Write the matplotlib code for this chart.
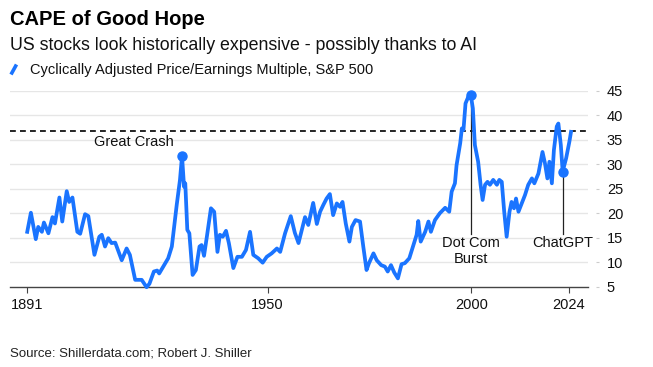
import matplotlib
matplotlib.use("Agg")
import matplotlib.pyplot as plt
from matplotlib.lines import Line2D

plt.rcParams['font.family'] = ['Liberation Sans', 'DejaVu Sans']

# ---- data ----
years = [1891.0, 1891.9, 1893.1, 1893.7, 1894.6, 1895.1, 1896.2, 1897.2, 1897.8, 1898.9,
         1899.6, 1900.7, 1901.3, 1902.1, 1903.3, 1904.0, 1905.2, 1906.0, 1907.5, 1908.7,
         1909.3, 1910.1, 1910.9, 1911.7, 1912.6, 1914.2, 1915.4, 1916.2, 1917.5, 1919.1,
         1920.3, 1921.0, 1922.1, 1922.9, 1923.4, 1924.6, 1925.6, 1926.5, 1927.7, 1928.5,
         1929.0, 1929.5, 1929.8, 1930.3, 1930.8, 1931.6, 1932.4, 1933.3, 1933.8, 1934.4,
         1935.1, 1936.1, 1936.9, 1937.7, 1938.3, 1939.0, 1939.8, 1940.5, 1941.6, 1942.6,
         1943.7, 1944.7, 1945.7, 1946.5, 1947.7, 1948.8, 1949.8, 1951.0, 1952.3, 1953.1,
         1954.3, 1955.7, 1956.7, 1957.6, 1959.2, 1960.0, 1961.2, 1962.1, 1962.9, 1963.7,
         1964.5, 1965.3, 1966.1, 1967.0, 1967.8, 1968.4, 1969.2, 1970.1, 1970.7, 1971.6,
         1972.7, 1973.5, 1974.3, 1974.9, 1976.0, 1976.8, 1977.9, 1978.8, 1979.5, 1980.3,
         1981.1, 1982.0, 1982.9, 1983.7, 1984.8, 1985.8, 1986.6, 1987.0, 1987.6, 1988.7,
         1989.5, 1990.1, 1991.1, 1992.3, 1993.6, 1994.6, 1995.2, 1996.0, 1996.4, 1997.3,
         1997.7, 1998.1, 1998.6, 1999.3, 1999.9, 2000.4, 2000.9, 2001.7, 2002.3, 2002.8,
         2003.4, 2004.0, 2004.6, 2005.4, 2006.3, 2006.9, 2007.5, 2008.1, 2008.7, 2009.4,
         2009.9, 2010.5, 2011.0, 2011.6, 2012.4, 2013.2, 2014.0, 2014.9, 2015.5, 2016.5,
         2017.5, 2018.1, 2018.7, 2019.2, 2019.8, 2020.3, 2021.0, 2021.4, 2022.0, 2022.45,
         2023.3, 2024.1, 2024.5]
cape = [16.2, 20.1, 14.7, 17.2, 16.2, 18.1, 15.9, 19.2, 17.9, 23.2,
        18.3, 24.5, 22.3, 23.2, 16.2, 15.8, 19.8, 19.4, 11.5, 15.2,
        15.6, 13.2, 14.9, 13.9, 14.0, 10.4, 12.8, 11.5, 6.4, 6.4,
        4.9, 5.6, 8.1, 8.3, 7.7, 9.4, 10.8, 13.2, 21.7, 26.8,
        31.7, 25.4, 26.1, 16.6, 15.9, 7.4, 8.4, 13.2, 13.5, 11.3,
        15.2, 21.0, 20.3, 12.1, 15.6, 15.2, 16.4, 13.9, 8.8, 11.1,
        11.1, 12.5, 16.2, 11.5, 10.8, 9.9, 11.1, 11.8, 12.8, 12.1,
        15.9, 19.4, 16.0, 13.9, 19.2, 17.6, 22.1, 17.8, 20.3, 21.7,
        23.0, 23.9, 19.6, 22.0, 21.3, 22.3, 17.9, 14.2, 17.2, 18.6,
        18.3, 13.2, 8.4, 9.8, 11.8, 10.4, 9.4, 9.1, 8.1, 9.4,
        7.9, 6.7, 9.6, 9.8, 10.8, 13.5, 15.6, 18.4, 14.2, 16.2,
        18.3, 16.2, 18.6, 20.0, 21.1, 20.3, 24.4, 26.1, 29.8, 34.3,
        37.3, 37.0, 42.4, 43.8, 44.1, 41.4, 33.9, 30.5, 25.8, 22.7,
        25.8, 26.4, 25.8, 26.8, 25.8, 26.8, 26.4, 20.3, 15.2, 20.3,
        22.3, 21.0, 23.0, 20.3, 22.0, 23.7, 25.8, 27.1, 26.1, 28.1,
        32.5, 30.2, 27.1, 30.5, 26.1, 32.9, 37.7, 38.3, 33.9, 28.5,
        31.2, 34.6, 36.6]

current_level = 36.8
events = ["Great Crash", "Dot Com\nBurst", "ChatGPT"]
event_years = [1929.0, 1999.9, 2022.45]
event_values = [31.7, 44.1, 28.5]

xtick_years = [1891, 1950, 2000, 2024]
ytick_vals = [5, 10, 15, 20, 25, 30, 35, 40, 45]

BLUE = '#1a74ff'
W, H = 653, 367

fig = plt.figure(figsize=(W / 100, H / 100), dpi=100)
fig.patch.set_facecolor('white')

def fx(px):
    return px / W

def fy(py):
    return 1 - py / H

ax_left, ax_right = 10, 588
ax_top, ax_bot = 90.7, 286.7
ax = fig.add_axes([fx(ax_left), fy(ax_bot), fx(ax_right - ax_left), (ax_bot - ax_top) / H])
ax.set_xlim(1886.77, 2028.67)
ax.set_ylim(5, 45)

for v in ytick_vals[1:]:
    ax.axhline(v, color='#e6e6e6', lw=1.0, zorder=0)

ax.axhline(current_level, color='black', lw=1.2, ls=(0, (3.5, 2.5)), zorder=2)

ax.plot(years, cape, color=BLUE, lw=2.7, solid_joinstyle='round', zorder=3, clip_on=False)

# annotations
ax.plot([event_years[0]], [event_values[0]], 'o', color=BLUE, ms=6.5, zorder=4, clip_on=False)
ax.text(event_years[0] - 2.1, 34.5, events[0], ha='right', va='center', fontsize=10.5, color='#111111')

for yr, val, lab in zip(event_years[1:], event_values[1:], events[1:]):
    ax.plot([yr], [val], 'o', color=BLUE, ms=6.5, zorder=4, clip_on=False)
    ax.plot([yr, yr], [val, 15.8], color='#222222', lw=0.9, zorder=2.5)
    ax.text(yr, 15.3, lab, ha='center', va='top', fontsize=10.5, color='#111111', linespacing=1.15)

for s in ['top', 'left', 'right']:
    ax.spines[s].set_visible(False)
ax.spines['bottom'].set_color('#444444')
ax.spines['bottom'].set_linewidth(1.0)

ax.set_xticks(xtick_years)
ax.set_xticklabels([str(y) for y in xtick_years])
ax.tick_params(axis='x', length=4.3, width=0.8, color='#444444', pad=4, labelsize=10.5, labelcolor='#111111')

ax.yaxis.tick_right()
ax.spines['right'].set_position(('outward', 5.8))
ax.set_yticks(ytick_vals)
ax.set_yticklabels([str(v) for v in ytick_vals])
ax.tick_params(axis='y', length=2.2, width=0.8, color='#cccccc', pad=5.5, labelsize=10.5, labelcolor='#111111')
ax.set_facecolor('none')

# header texts
fig.text(fx(10), fy(25), "CAPE of Good Hope", fontsize=14.5, fontweight='bold', va='baseline', ha='left', color='black')
fig.text(fx(10), fy(50), "US stocks look historically expensive - possibly thanks to AI", fontsize=12.8,
         va='baseline', ha='left', color='#111111')
fig.add_artist(Line2D([fx(11), fx(16.5)], [fy(74.5), fy(64.5)], color=BLUE, lw=2.6, solid_capstyle='butt'))
fig.text(fx(30), fy(74), "Cyclically Adjusted Price/Earnings Multiple, S&P 500", fontsize=10.5,
         va='baseline', ha='left', color='#111111')
fig.text(fx(10), fy(357), "Source: Shillerdata.com; Robert J. Shiller", fontsize=9.5,
         va='baseline', ha='left', color='#222222')

fig.savefig('out.png', dpi=100, facecolor='white')
